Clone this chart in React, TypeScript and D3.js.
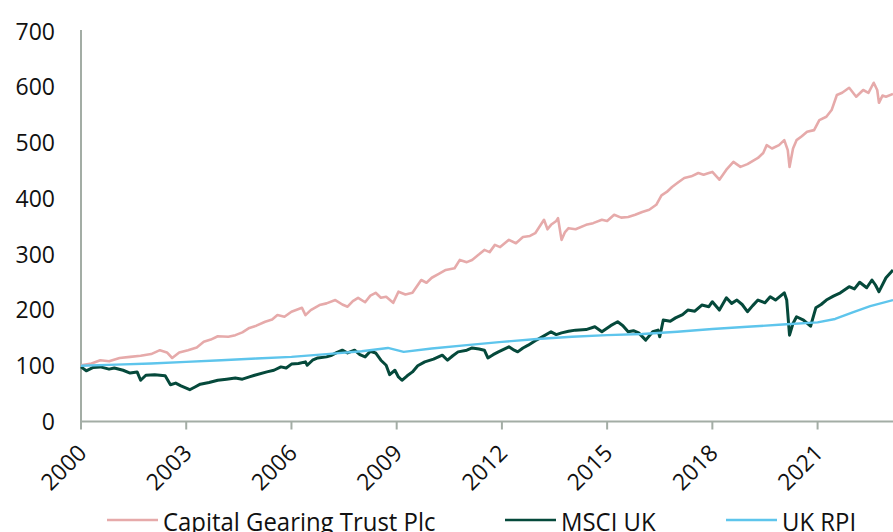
import React from 'react';
import * as d3 from 'd3';

// [decimal year, index value]
const cgtSeries: [number, number][] = [
  [2000.0, 101], [2000.3, 104], [2000.55, 110], [2000.8, 108], [2001.1, 114], [2001.4, 116],
  [2001.7, 118], [2002.0, 121], [2002.25, 128], [2002.45, 124], [2002.6, 114], [2002.8, 124],
  [2003.05, 128], [2003.3, 133], [2003.5, 143], [2003.7, 147], [2003.9, 153], [2004.2, 152],
  [2004.4, 155], [2004.6, 160], [2004.8, 168], [2005.0, 172], [2005.25, 179], [2005.45, 183],
  [2005.6, 191], [2005.8, 188], [2006.0, 197], [2006.3, 204], [2006.4, 191], [2006.55, 200],
  [2006.8, 209], [2007.0, 212], [2007.25, 218], [2007.45, 210], [2007.6, 206], [2007.75, 216],
  [2007.9, 222], [2008.1, 214], [2008.25, 226], [2008.4, 231], [2008.55, 222], [2008.7, 224],
  [2008.9, 213], [2009.05, 233], [2009.25, 228], [2009.45, 231], [2009.7, 254], [2009.85, 249],
  [2010.0, 258], [2010.2, 265], [2010.4, 272], [2010.65, 275], [2010.8, 290], [2011.0, 286],
  [2011.15, 290], [2011.35, 300], [2011.5, 308], [2011.65, 304], [2011.8, 317], [2011.95, 313],
  [2012.2, 326], [2012.4, 320], [2012.6, 331], [2012.8, 333], [2012.95, 338], [2013.2, 362],
  [2013.3, 345], [2013.4, 353], [2013.55, 360], [2013.6, 365], [2013.7, 326], [2013.8, 340],
  [2013.9, 347], [2014.1, 345], [2014.4, 353], [2014.6, 356], [2014.85, 362], [2015.0, 360],
  [2015.2, 371], [2015.4, 366], [2015.6, 367], [2015.8, 371], [2016.0, 376], [2016.2, 380],
  [2016.4, 389], [2016.55, 406], [2016.7, 412], [2016.85, 421], [2017.0, 428], [2017.2, 437],
  [2017.4, 440], [2017.6, 446], [2017.75, 443], [2017.9, 446], [2018.0, 448], [2018.2, 434],
  [2018.4, 452], [2018.6, 466], [2018.8, 457], [2019.0, 462], [2019.3, 473], [2019.45, 482],
  [2019.55, 496], [2019.7, 490], [2019.9, 496], [2020.05, 505], [2020.15, 487], [2020.2, 457],
  [2020.3, 490], [2020.4, 505], [2020.55, 512], [2020.7, 520], [2020.9, 523], [2021.05, 541],
  [2021.25, 547], [2021.4, 559], [2021.55, 586], [2021.7, 590], [2021.9, 599], [2022.1, 583],
  [2022.3, 595], [2022.45, 590], [2022.6, 608], [2022.7, 595], [2022.75, 572], [2022.85, 585],
  [2022.95, 583], [2023.15, 588],
];

const msciSeries: [number, number][] = [
  [2000.0, 98], [2000.15, 91], [2000.35, 97], [2000.55, 98], [2000.8, 94], [2000.95, 96],
  [2001.2, 92], [2001.4, 87], [2001.6, 89], [2001.7, 74], [2001.85, 83], [2002.1, 84],
  [2002.4, 82], [2002.55, 66], [2002.7, 69], [2002.85, 64], [2003.1, 57], [2003.25, 62],
  [2003.4, 67], [2003.65, 70], [2003.9, 74], [2004.15, 76], [2004.4, 78], [2004.6, 76],
  [2004.8, 80], [2004.95, 83], [2005.3, 89], [2005.5, 92], [2005.7, 98], [2005.85, 96],
  [2006.0, 103], [2006.2, 104], [2006.4, 107], [2006.45, 101], [2006.6, 110], [2006.75, 114],
  [2007.0, 116], [2007.15, 119], [2007.3, 124], [2007.45, 128], [2007.6, 123], [2007.8, 128],
  [2007.95, 120], [2008.1, 116], [2008.25, 126], [2008.4, 123], [2008.55, 110], [2008.7, 101],
  [2008.8, 84], [2008.95, 92], [2009.05, 80], [2009.15, 74], [2009.3, 82], [2009.45, 89],
  [2009.6, 100], [2009.8, 107], [2010.05, 112], [2010.3, 119], [2010.45, 110], [2010.6, 118],
  [2010.75, 125], [2011.0, 128], [2011.15, 132], [2011.35, 130], [2011.5, 128], [2011.6, 114],
  [2011.75, 120], [2011.9, 125], [2012.2, 134], [2012.35, 128], [2012.45, 125], [2012.6, 132],
  [2012.75, 137], [2012.95, 145], [2013.15, 152], [2013.4, 161], [2013.55, 156], [2013.7, 159],
  [2013.9, 162], [2014.1, 164], [2014.4, 165], [2014.65, 170], [2014.85, 161], [2015.1, 172],
  [2015.3, 179], [2015.45, 172], [2015.6, 161], [2015.75, 163], [2015.9, 159], [2016.1, 146],
  [2016.3, 161], [2016.45, 164], [2016.5, 152], [2016.6, 182], [2016.8, 180], [2016.95, 186],
  [2017.15, 192], [2017.3, 200], [2017.5, 198], [2017.7, 209], [2017.9, 206], [2018.0, 215],
  [2018.2, 200], [2018.4, 222], [2018.55, 212], [2018.7, 218], [2018.85, 210], [2019.0, 197],
  [2019.15, 208], [2019.3, 218], [2019.5, 213], [2019.65, 224], [2019.8, 218], [2020.05, 231],
  [2020.12, 218], [2020.2, 155], [2020.3, 176], [2020.4, 188], [2020.6, 182], [2020.8, 171],
  [2020.95, 204], [2021.1, 210], [2021.25, 218], [2021.45, 225], [2021.65, 231], [2021.9, 242],
  [2022.05, 238], [2022.2, 250], [2022.4, 240], [2022.55, 254], [2022.65, 245], [2022.75, 233],
  [2022.95, 258], [2023.15, 272],
];

const rpiSeries: [number, number][] = [
  [2000.0, 100], [2001.0, 102], [2002.0, 104], [2003.0, 107], [2004.0, 110], [2005.0, 113],
  [2006.0, 116], [2007.0, 121], [2008.0, 126], [2008.75, 132], [2009.2, 125], [2010.0, 131],
  [2011.0, 137], [2012.0, 143], [2013.0, 148], [2014.0, 152], [2015.0, 155], [2016.0, 157],
  [2017.0, 161], [2018.0, 166], [2019.0, 170], [2020.0, 174], [2021.0, 178], [2021.5, 184],
  [2022.0, 196], [2022.5, 207], [2023.15, 218],
];

const xTickYears = [2000, 2003, 2006, 2009, 2012, 2015, 2018, 2021];
const yTicks = [0, 100, 200, 300, 400, 500, 600, 700];

const legendItems = [
  { name: 'Capital Gearing Trust Plc', color: '#e6aaaa', x: 107 },
  { name: 'MSCI UK', color: '#05493b', x: 505 },
  { name: 'UK RPI', color: '#5ec5ec', x: 726 },
];

const W = 893;
const H = 532;
const font = '"Open Sans", sans-serif';
const axisColor = '#a3ada5';

export default function App() {
  const x = d3.scaleLinear().domain([2000, 2023.15]).range([81, 893]);
  const y = d3.scaleLinear().domain([0, 700]).range([421.5, 31.5]);

  const line = d3.line<[number, number]>()
    .x(d => x(d[0]))
    .y(d => y(d[1]))
    .curve(d3.curveLinear);

  return (
    <svg width={W} height={H} style={{ position: 'absolute', left: 0, top: 0, background: '#fff' }}>
      {/* y axis */}
      <line x1={81} x2={81} y1={30} y2={y(0)} stroke={axisColor} strokeWidth={2} />
      {yTicks.map(t => (
        <text key={t} x={55} y={y(t)} dy="0.36em" textAnchor="end"
          fontFamily={font} fontSize={23} fill="#111">{t}</text>
      ))}

      {/* series */}
      <path d={line(cgtSeries) ?? ''} fill="none" stroke="#e6aaaa" strokeWidth={2.6} strokeLinejoin="round" />
      <path d={line(msciSeries) ?? ''} fill="none" stroke="#05493b" strokeWidth={3} strokeLinejoin="round" />
      <path d={line(rpiSeries) ?? ''} fill="none" stroke="#5ec5ec" strokeWidth={2.4} strokeLinejoin="round" />

      {/* x axis */}
      <line x1={80} x2={W} y1={y(0)} y2={y(0)} stroke={axisColor} strokeWidth={2} />
      {xTickYears.map(t => (
        <g key={t} transform={`translate(${x(t)},${y(0)})`}>
          <line y1={0} y2={8} stroke={axisColor} strokeWidth={2} />
          <text transform="translate(7,33) rotate(-45)" textAnchor="end"
            fontFamily={font} fontSize={23} fill="#111">{t}</text>
        </g>
      ))}

      {/* legend */}
      {legendItems.map(l => (
        <g key={l.name}>
          <line x1={l.x} x2={l.x + 51} y1={520} y2={520} stroke={l.color} strokeWidth={2.5} />
          <text transform={`translate(${l.x + 56},530.5) scale(0.92,1)`}
            fontFamily={font} fontSize={26} fill="#111">{l.name}</text>
        </g>
      ))}
    </svg>
  );
}
